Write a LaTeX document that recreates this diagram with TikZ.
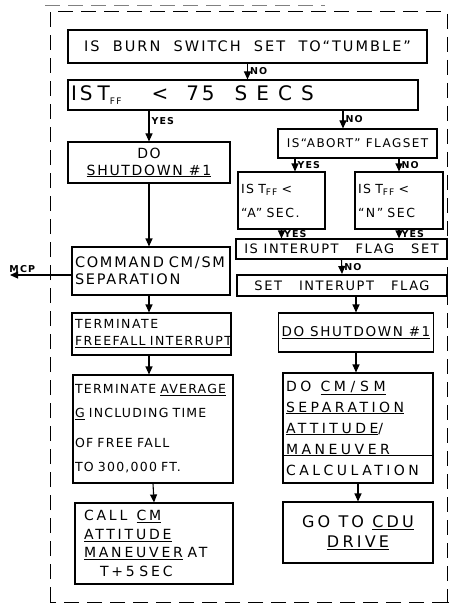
\documentclass[tikz,border=0pt]{standalone}
\usepackage{fontspec}
\setmainfont{DejaVu Sans}[LetterSpace=12]
\usetikzlibrary{arrows.meta,positioning,calc}

\newcommand{\Tff}{T\raisebox{-0.3ex}{\fontsize{9}{9}\selectfont FF}}
\newcommand{\handfont}[3]{\fontsize{#1}{#2}\selectfont\addfontfeature{LetterSpace=#3}}

\tikzset{
  flowbox/.style={draw, line width=1.1pt, inner sep=3pt, align=center, font=\fontsize{12}{15}\selectfont},
  leftbox/.style={flowbox, align=left, text width=#1},
  flowarrow/.style={line width=1.1pt, -{Triangle[length=8pt,width=7pt]}},
  branch/.style={font=\fontsize{9.5}{10}\selectfont\bfseries, inner sep=2pt},
  sheetframe/.style={line width=1pt, dash pattern=on 15pt off 8pt},
}

\begin{document}
\begin{tikzpicture}[x=1pt, y=-1pt]
  \useasboundingbox (0,0) rectangle (452,604);

  % Sheet frame
  \draw[sheetframe, line width=0.5pt, gray] (45,5) -- (325,5);
  \draw[sheetframe] (50,602) -- (50,12) -- (447,12) -- (447,602) -- (452,602);
  \draw[sheetframe] (447,602) -- (50,602);

  % Top decisions
  \node[flowbox, minimum width=359, minimum height=33, font=\handfont{14.5}{15}{14}] (burn) at (247.5,46.5) {IS \ BURN \ SWITCH \ SET \ TO“TUMBLE”};
  \node[leftbox=344, minimum height=30, font=\handfont{20}{21}{15}] (tff) at (243,95) {IS\hspace{5pt}\Tff\hspace{30pt}<\hspace{18pt}75\hspace{20pt}{\addfontfeature{LetterSpace=45}SECS}};

  % Left column
  \node[flowbox, minimum width=162, minimum height=41, font=\handfont{14}{17}{12}] (shut1) at (149,162.5) {DO\\ \underline{SHUTDOWN \#1}};
  \node[leftbox=152, minimum height=48, font=\handfont{14.5}{17}{12}] (sep) at (151,271) {COMMAND CM/SM\\ SEPARATION};
  \node[leftbox=153, minimum height=42, font=\handfont{12.5}{17}{12}] (termff) at (151.5,334) {TERMINATE\\ \underline{FREEFALL INTERRUPT}};
  \node[leftbox=156, inner xsep=2pt, minimum height=108, font=\handfont{12.5}{24}{10}] (termavg) at (153,429) {TERMINATE \underline{AVERAGE}\\ \underline{G} INCLUDING TIME\\[6pt] OF FREE FALL\\ TO 300,000 FT.};
  \node[leftbox=140, inner xsep=9pt, minimum height=81, font=\handfont{14}{18.5}{20}] (callcm) at (154,543.5) {CALL \ \underline{CM}\\ \underline{ATTITUDE}\\ \underline{MANEUVER} AT\\ \hspace{16pt}T+5 SEC};

  % Right column
  \node[flowbox, minimum width=159, minimum height=29, font=\handfont{12}{15}{12}] (abort) at (357.5,143.5) {IS“ABORT” FLAGSET};
  \node[leftbox=81, minimum height=57, font=\handfont{12.5}{24}{12}] (tffa) at (281.5,200.5) {IS \Tff{} <\\ “A” SEC.};
  \node[leftbox=82, minimum height=57, font=\handfont{12.5}{24}{12}] (tffn) at (399,200.5) {IS \Tff{} <\\ “N” SEC};
  \node[flowbox, minimum width=211, minimum height=20, font=\handfont{13}{15}{12}] (intq) at (341.5,249) {IS INTERUPT \ \ FLAG \ \ SET};
  \node[flowbox, line width=2pt, minimum width=210, minimum height=21, font=\handfont{13}{15}{12}] (intset) at (342,285.5) {SET \ \ INTERUPT \ \ FLAG};
  \node[flowbox, minimum width=148, minimum height=39, font=\handfont{13.5}{15}{12}] (shut2) at (356,332.5) {\underline{DO SHUTDOWN \#1}};
  \node[leftbox=144, minimum height=110, font=\handfont{14}{21}{25}] (calc) at (358,428) {DO \ \underline{CM / S M}\\ \underline{SEPARATION}\\ \underline{ATTITUDE}/\\ MANEUVER\\ CALCULATION};
  \draw[line width=1.1pt] ($(calc.south west)!0.255!(calc.north west)$) -- ($(calc.south east)!0.255!(calc.north east)$);
  \node[flowbox, minimum width=150, minimum height=61, font=\handfont{16}{20}{20}] (cdu) at (358,532.5) {GO TO \underline{CDU}\\ \underline{DRIVE}};

  % Connectors
  \draw[flowarrow] (burn.south) -- node[branch, right] {NO} (burn.south |- tff.north);
  \draw[flowarrow] (tff.south -| shut1) -- node[branch, right, pos=0.35] {YES} (shut1.north);
  \coordinate (abortin) at ([xshift=-14.5pt]abort.north);
  \draw[flowarrow] (tff.south -| abortin) -- node[branch, right] {NO} (abortin);
  \coordinate (tffain) at ([xshift=13.5pt]tffa.north);
  \draw[flowarrow] (abort.south -| tffain) -- node[branch, right] {YES} (tffain);
  \draw[flowarrow] (abort.south -| tffn) -- node[branch, right] {NO} (tffn.north);
  \draw[flowarrow] (tffa.south) -- node[branch, right] {YES} (tffa.south |- intq.north);
  \draw[flowarrow] (tffn.south) -- node[branch, right] {YES} (tffn.south |- intq.north);
  \draw[flowarrow] (intq.south) -- node[branch, right] {NO} (intset.north);
  \draw[flowarrow] (shut1.south) -- (shut1.south |- sep.north);
  \coordinate (mcpend) at (10,275);
  \draw[flowarrow] (sep.west |- mcpend) -- node[branch, above, pos=0.8] {MCP} (mcpend);
  \draw[flowarrow] (sep.south -| shut1) -- (termff.north -| shut1);
  \draw[flowarrow] (termff.south -| shut1) -- (termavg.north -| shut1);
  \draw[flowarrow] (termavg.south) -- (callcm.north);
  \draw[flowarrow] (intset.south -| shut2) -- (shut2.north);
  \draw[flowarrow] (shut2.south) -- (shut2.south |- calc.north);
  \draw[flowarrow] (calc.south) -- (cdu.north);
\end{tikzpicture}
\end{document}
